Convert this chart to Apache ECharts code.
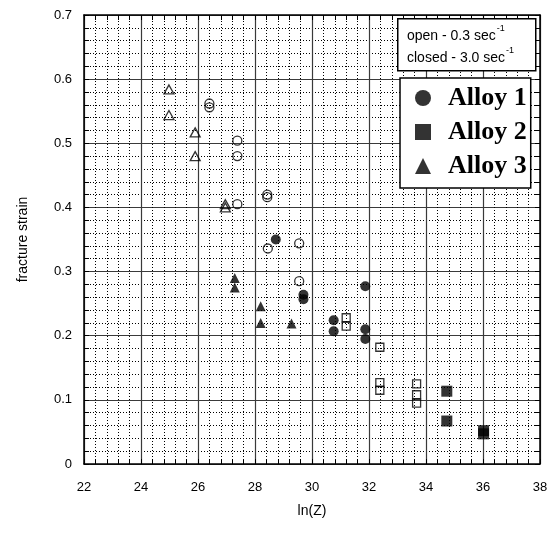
<!DOCTYPE html>
<html>
<head>
<meta charset="utf-8">
<script src="https://cdn.jsdelivr.net/npm/echarts@6/dist/echarts.min.js"></script>
<style>
  html, body { margin: 0; padding: 0; background: #fff; }
  #chart { width: 554px; height: 535px; }
</style>
</head>
<body>
<div id="chart"></div>
<script>
// Axis ranges and tick spacing
const xRange = [22, 38];
const xStep = 2;
const yRange = [0, 0.7];
const yStep = 0.1;

// Fracture strain vs ln(Z); open = 0.3 /s, closed = 3.0 /s
const alloy1Open = [[26.4, 0.562], [26.4, 0.556], [27.38, 0.504], [27.38, 0.480], [27.38, 0.405],
                    [28.43, 0.420], [28.43, 0.416], [28.45, 0.336], [29.55, 0.344], [29.55, 0.285]];
const alloy1Closed = [[28.73, 0.350], [29.7, 0.264], [29.7, 0.257], [30.76, 0.224], [30.76, 0.207],
                      [31.87, 0.277], [31.87, 0.210], [31.87, 0.195]];
const alloy2Open = [[31.2, 0.228], [31.2, 0.215], [32.38, 0.182], [32.38, 0.127], [32.38, 0.115],
                    [33.67, 0.125], [33.67, 0.108], [33.67, 0.095]];
const alloy2Closed = [[34.73, 0.1135], [34.73, 0.067], [36.02, 0.052], [36.02, 0.047]];
const alloy3Open = [[24.98, 0.584], [24.98, 0.544], [25.9, 0.517], [25.9, 0.480], [26.96, 0.405], [26.96, 0.400]];
const alloy3Closed = [[27.29, 0.290], [27.29, 0.275], [28.2, 0.246], [28.2, 0.220], [29.28, 0.219]];

const legendNames = ['Alloy 1', 'Alloy 2', 'Alloy 3'];
const rateLines = [['open - 0.3 sec', '-1'], ['closed - 3.0 sec', '-1']];

const chart = echarts.init(document.getElementById('chart'), null, { renderer: 'canvas' });

const tickStyle = { show: true, inside: true, length: 5, lineStyle: { color: '#000', width: 1 } };
const minorTickStyle = { show: true, splitNumber: 5, length: 5, lineStyle: { color: '#000', width: 1 } };
const majorGrid = { show: true, lineStyle: { color: '#3a3a3a', width: 1.2, type: 'solid' } };
const minorGrid = { show: true, lineStyle: { color: '#000', width: 1, type: [1, 2] } };
const labelFont = { color: '#000', fontFamily: 'Liberation Sans, Arial', fontSize: 13 };
const nameFont = { color: '#000', fontFamily: 'Liberation Sans, Arial', fontSize: 14 };

function openSeries(name, data, symbol, size) {
  return {
    name, type: 'scatter', data, symbol, symbolSize: size,
    itemStyle: { color: 'rgba(0,0,0,0)', borderColor: '#000', borderWidth: 1.3 },
    emphasis: { disabled: true }, z: 5
  };
}
function closedSeries(name, data, symbol, size) {
  return {
    name, type: 'scatter', data, symbol, symbolSize: size,
    itemStyle: { color: '#000' },
    emphasis: { disabled: true }, z: 6
  };
}

const option = {
  animation: false,
  backgroundColor: '#fff',
  grid: { left: 84, right: 14, top: 15, bottom: 71, show: true, backgroundColor: '#fff', borderWidth: 0 },
  xAxis: [
    {
      type: 'value', min: xRange[0], max: xRange[1], interval: xStep, position: 'bottom',
      name: 'ln(Z)', nameLocation: 'middle', nameGap: 40, nameTextStyle: nameFont,
      axisLine: { show: true, onZero: false, lineStyle: { color: '#000', width: 1.5 } },
      axisTick: tickStyle, minorTick: minorTickStyle,
      axisLabel: Object.assign({ margin: 17 }, labelFont),
      splitLine: majorGrid, minorSplitLine: minorGrid
    },
    {
      type: 'value', min: xRange[0], max: xRange[1], interval: xStep, position: 'top',
      axisLine: { show: true, onZero: false, lineStyle: { color: '#000', width: 1.5 } },
      axisTick: tickStyle, minorTick: minorTickStyle,
      axisLabel: { show: false }, splitLine: { show: false }
    }
  ],
  yAxis: [
    {
      type: 'value', min: yRange[0], max: yRange[1], interval: yStep, position: 'left',
      name: 'fracture strain', nameLocation: 'middle', nameGap: 54, nameTextStyle: nameFont,
      axisLine: { show: true, onZero: false, lineStyle: { color: '#000', width: 1.5 } },
      axisTick: tickStyle, minorTick: minorTickStyle,
      axisLabel: Object.assign({ margin: 12, formatter: v => (Math.round(v * 10) / 10).toString() }, labelFont),
      splitLine: majorGrid, minorSplitLine: minorGrid
    },
    {
      type: 'value', min: yRange[0], max: yRange[1], interval: yStep, position: 'right',
      axisLine: { show: true, onZero: false, lineStyle: { color: '#000', width: 1.5 } },
      axisTick: tickStyle, minorTick: minorTickStyle,
      axisLabel: { show: false }, splitLine: { show: false }
    }
  ],
  legend: {
    data: legendNames,
    orient: 'vertical', left: 400, top: 78,
    selectedMode: false,
    backgroundColor: '#fff', borderColor: '#000', borderWidth: 1.5,
    padding: [7, 4, 9, 15], itemGap: 8,
    itemWidth: 16, itemHeight: 16,
    textStyle: { color: '#000', fontFamily: 'Liberation Serif, Times New Roman', fontWeight: 'bold', fontSize: 26, padding: [0, 0, 0, 12] },
    z: 10
  },
  graphic: [
    {
      type: 'rect', left: 397, top: 18, z: 10,
      shape: { width: 138, height: 52 },
      style: { fill: '#fff', stroke: '#000', lineWidth: 1.5 }
    },
    ...rateLines.map((ln, i) => ({
      type: 'text', left: 407, top: 24 + i * 22, z: 11,
      style: {
        text: '{a|' + ln[0] + '}{s|' + ln[1] + '}',
        rich: {
          a: { fontFamily: 'Liberation Sans, Arial', fontSize: 14, fill: '#000', lineHeight: 19, verticalAlign: 'bottom' },
          s: { fontFamily: 'Liberation Sans, Arial', fontSize: 9, fill: '#000', verticalAlign: 'top', padding: [0, 0, 0, 1] }
        }
      }
    }))
  ],
  series: [
    openSeries('Alloy 1 open', alloy1Open, 'circle', 9),
    openSeries('Alloy 2 open', alloy2Open, 'rect', 8),
    openSeries('Alloy 3 open', alloy3Open, 'triangle', [10, 9]),
    closedSeries('Alloy 1', alloy1Closed, 'circle', 10),
    closedSeries('Alloy 2', alloy2Closed, 'rect', 11),
    closedSeries('Alloy 3', alloy3Closed, 'triangle', [10, 10])
  ]
};

chart.setOption(option);
</script>
</body>
</html>
